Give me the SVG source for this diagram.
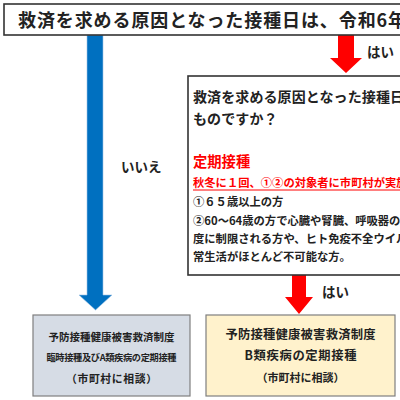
<svg xmlns="http://www.w3.org/2000/svg" width="400" height="400" viewBox="0 0 400 400">
<style>
text{font-family:"Noto Sans CJK JP","Noto Sans",sans-serif;font-weight:bold;fill:#222}
.red{fill:#ff0000}
.lbl{font-size:13.5px}
.li{font-size:11.3px}
.frame{fill:#fff;stroke:#333;stroke-width:1.6}
.res{stroke:#7f7f7f;stroke-width:1.2}
</style>
<rect width="400" height="400" fill="#fff"/>
<g id="connectors">
<path d="M87,35 H103 V295 H112 L95.5,310 L79,295 H87 Z" fill="#0070c0" stroke="#9dc3e6" stroke-width="0.6"/>
<path d="M338,35 H354 V58 H362 L346,73 L330,58 H338 Z" fill="#ff0000"/>
<path d="M292,275 H306 V297 H313 L299,314 L285,297 H292 Z" fill="#ff0000"/>
<text class="lbl" x="121" y="172">いいえ</text>
<text class="lbl" x="367" y="57">はい</text>
<text class="lbl" x="322" y="297">はい</text>
</g>
<g id="q1">
<rect class="frame" x="4" y="4" width="402" height="31"/>
<text x="18" y="27" font-size="18" letter-spacing="0.9">救済を求める原因となった接種日は、令和6年</text>
</g>
<g id="q2">
<rect class="frame" x="188" y="76" width="220" height="199"/>
<text x="193" y="102" font-size="14" letter-spacing="0.1">救済を求める原因となった接種日</text>
<text x="193" y="124" font-size="14" letter-spacing="0.1">ものですか？</text>
<text class="red" x="193" y="167" font-size="14.3">定期接種</text>
<text class="red li" x="193" y="187">秋冬に１回、①②の対象者に市町村が実施</text>
<line x1="193" y1="190" x2="400" y2="190" stroke="#ff0000" stroke-width="1"/>
<text class="li" x="193" y="206">①６５歳以上の方</text>
<text class="li" x="193" y="225">②60～64歳の方で心臓や腎臓、呼吸器の</text>
<text class="li" x="193" y="243">度に制限される方や、ヒト免疫不全ウイル</text>
<text class="li" x="193" y="261">常生活がほとんど不可能な方。</text>
</g>
<g id="resultA">
<rect class="res" x="33" y="315" width="157" height="81" fill="#d6dce5"/>
<text x="111.5" y="341" font-size="10.5" text-anchor="middle" textLength="126" lengthAdjust="spacing">予防接種健康被害救済制度</text>
<text x="111.5" y="361" font-size="9.2" text-anchor="middle" textLength="130" lengthAdjust="spacing">臨時接種及びA類疾病の定期接種</text>
<text x="111.5" y="383" font-size="10.8" text-anchor="middle" textLength="91" lengthAdjust="spacing">（市町村に相談）</text>
</g>
<g id="resultB">
<rect class="res" x="206" y="315" width="189" height="81" fill="#fff2cc"/>
<text x="300.5" y="339" font-size="12.3" text-anchor="middle" textLength="150" lengthAdjust="spacing">予防接種健康被害救済制度</text>
<text x="300.5" y="360" font-size="12.3" text-anchor="middle" textLength="112" lengthAdjust="spacing">B類疾病の定期接種</text>
<text x="300.5" y="382" font-size="11" text-anchor="middle" textLength="88" lengthAdjust="spacing">（市町村に相談）</text>
</g>
</svg>
